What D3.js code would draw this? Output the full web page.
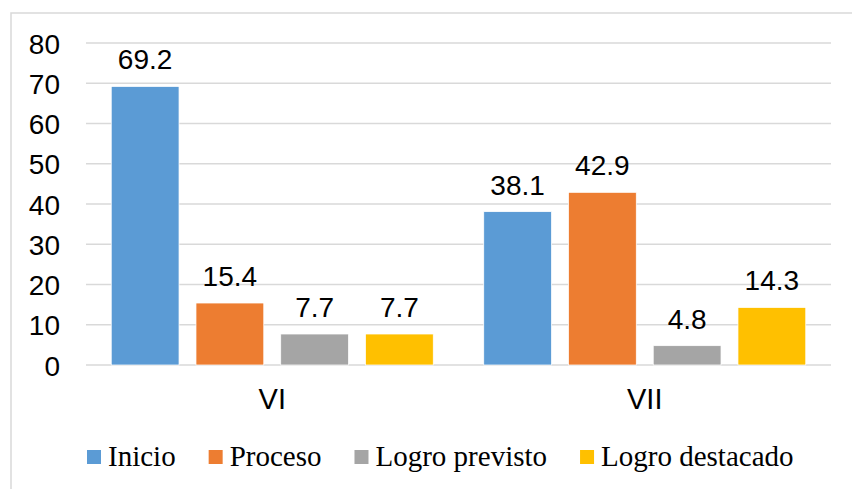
<!DOCTYPE html>
<html>
<head>
<meta charset="utf-8">
<script src="https://cdn.jsdelivr.net/npm/d3@7"></script>
<style>
  body { margin: 0; background: #fff; }
  svg { display: block; }
</style>
</head>
<body>
<script>
// data
var groups = ["VI", "VII"];
var series = ["Inicio", "Proceso", "Logro previsto", "Logro destacado"];
var inicio = [69.2, 38.1];
var proceso = [15.4, 42.9];
var logroPrevisto = [7.7, 4.8];
var logroDestacado = [7.7, 14.3];
var yTicks = [0, 10, 20, 30, 40, 50, 60, 70, 80];
var colors = ["#5B9BD5", "#ED7D31", "#A5A5A5", "#FFC000"];

var values = [inicio, proceso, logroPrevisto, logroDestacado];

var W = 852, H = 489;
var plot = { left: 86, right: 831, top: 43, bottom: 365 };

var svg = d3.select("body").append("svg")
  .attr("width", W)
  .attr("height", H);

// chart frame (only left and top edges fall inside the picture)
svg.append("rect")
  .attr("x", 11)
  .attr("y", 13)
  .attr("width", 900)
  .attr("height", 600)
  .attr("fill", "#fff")
  .attr("stroke", "#d9d9d9")
  .attr("stroke-width", 1.5);

var y = d3.scaleLinear()
  .domain([0, 80])
  .range([plot.bottom, plot.top]);

var x0 = d3.scaleBand()
  .domain(groups)
  .range([plot.left, plot.right])
  .paddingInner(0.09)
  .paddingOuter(0.045);

var x1 = d3.scaleBand()
  .domain(series)
  .range([0, x0.bandwidth()])
  .paddingInner(0.2)
  .paddingOuter(0.1);

// gridlines
svg.append("g")
  .selectAll("line")
  .data(yTicks)
  .enter()
  .append("line")
  .attr("x1", plot.left)
  .attr("x2", plot.right)
  .attr("y1", function(d) { return y(d); })
  .attr("y2", function(d) { return y(d); })
  .attr("stroke", "#d9d9d9")
  .attr("stroke-width", 1.3);

// y axis labels
var yAxis = d3.axisLeft(y).tickValues(yTicks).tickSize(0).tickPadding(26);
var gy = svg.append("g")
  .attr("transform", "translate(" + plot.left + ",0)")
  .call(yAxis);
gy.select(".domain").remove();
gy.selectAll("text")
  .attr("font-family", "Liberation Sans, Arial, sans-serif")
  .attr("font-size", "28px")
  .attr("fill", "#000")
  .attr("dy", "0.36em");

// x axis labels
var xAxis = d3.axisBottom(x0).tickSize(0).tickPadding(23);
var gx = svg.append("g")
  .attr("transform", "translate(0," + plot.bottom + ")")
  .call(xAxis);
gx.select(".domain").remove();
gx.selectAll("text")
  .attr("font-family", "Liberation Sans, Arial, sans-serif")
  .attr("font-size", "29px")
  .attr("fill", "#000");

// bars
var g = svg.selectAll(".group")
  .data(groups)
  .enter()
  .append("g")
  .attr("class", "group")
  .attr("transform", function(d) { return "translate(" + x0(d) + ",0)"; });

g.selectAll("rect")
  .data(function(d, gi) {
    return series.map(function(s, si) { return { s: s, si: si, v: values[si][gi] }; });
  })
  .enter()
  .append("rect")
  .attr("x", function(d) { return x1(d.s); })
  .attr("y", function(d) { return y(d.v); })
  .attr("width", x1.bandwidth())
  .attr("height", function(d) { return y(0) - y(d.v); })
  .attr("fill", function(d) { return colors[d.si]; })
  .attr("stroke", "#fff")
  .attr("stroke-width", 0.75);

// value labels
g.selectAll("text.val")
  .data(function(d, gi) {
    return series.map(function(s, si) { return { s: s, si: si, v: values[si][gi] }; });
  })
  .enter()
  .append("text")
  .attr("class", "val")
  .attr("x", function(d) { return x1(d.s) + x1.bandwidth() / 2; })
  .attr("y", function(d) { return y(d.v) - 17; })
  .attr("text-anchor", "middle")
  .attr("font-family", "Liberation Sans, Arial, sans-serif")
  .attr("font-size", "28px")
  .attr("fill", "#000")
  .text(function(d) { return d.v.toFixed(1); });

// legend
var legend = svg.append("g").attr("transform", "translate(87,0)");
var lx = 0;
series.forEach(function(s, i) {
  var item = legend.append("g").attr("transform", "translate(" + lx + ",0)");
  item.append("rect")
    .attr("x", 0)
    .attr("y", 450)
    .attr("width", 14)
    .attr("height", 14)
    .attr("fill", colors[i]);
  var t = item.append("text")
    .attr("x", 21)
    .attr("y", 466)
    .attr("font-family", "Liberation Serif, Times New Roman, serif")
    .attr("font-size", "29px")
    .attr("fill", "#000")
    .text(s);
  lx += 21 + t.node().getComputedTextLength() + 33;
});
</script>
</body>
</html>
